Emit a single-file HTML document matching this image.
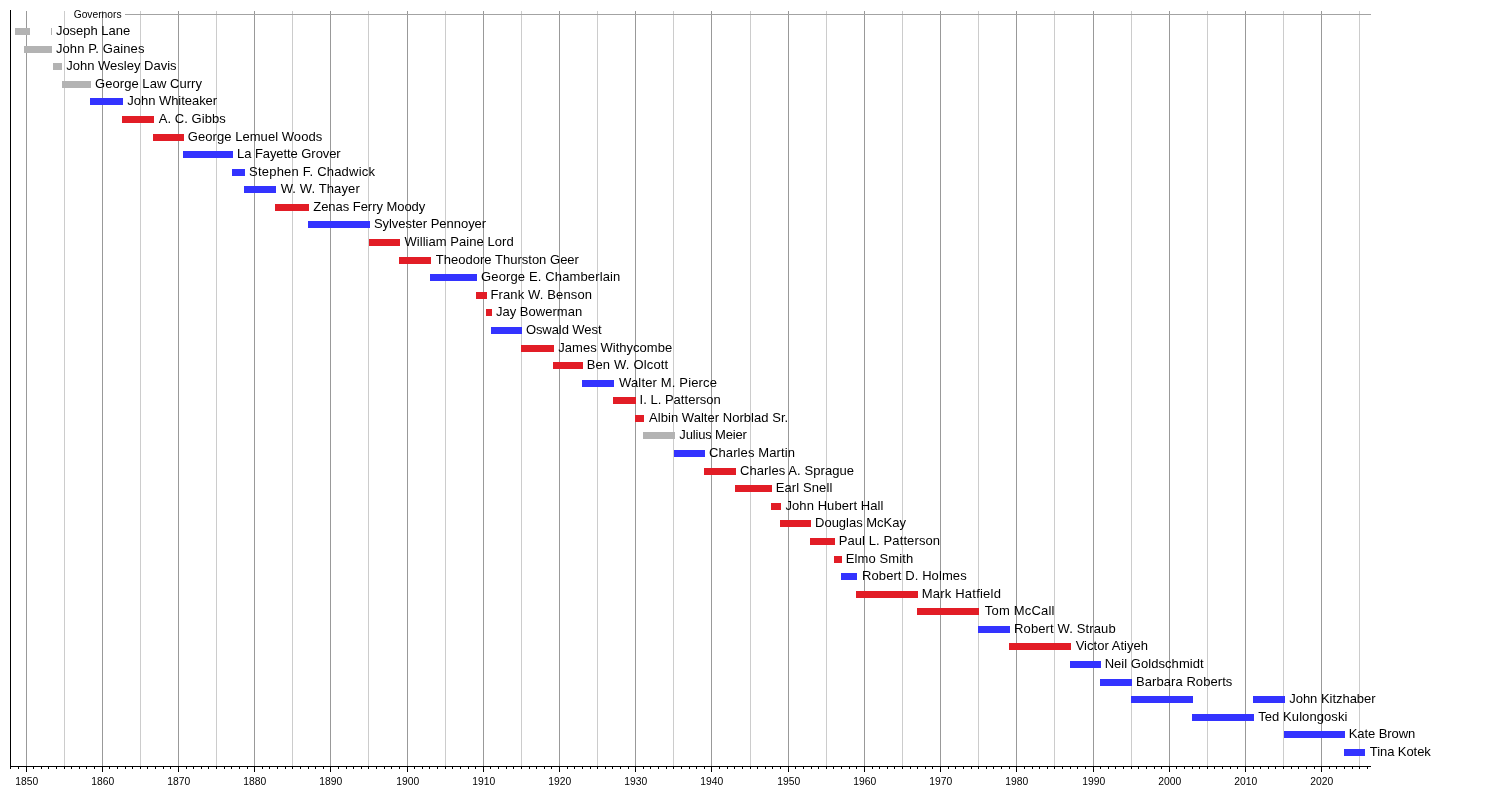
<!DOCTYPE html>
<html><head><meta charset="utf-8"><title>Governors of Oregon timeline</title>
<style>html,body{margin:0;padding:0;background:#fff;width:1500px;height:786px;overflow:hidden}svg{display:block;filter:blur(0.35px)}</style>
</head><body>
<svg width="1500" height="786" viewBox="0 0 1500 786" shape-rendering="crispEdges">
<rect width="1500" height="786" fill="#fff"/>
<rect x="26" y="11" width="1" height="755" fill="#999999"/>
<rect x="64" y="11" width="1" height="755" fill="#CCCCCC"/>
<rect x="102" y="11" width="1" height="755" fill="#999999"/>
<rect x="140" y="11" width="1" height="755" fill="#CCCCCC"/>
<rect x="178" y="11" width="1" height="755" fill="#999999"/>
<rect x="216" y="11" width="1" height="755" fill="#CCCCCC"/>
<rect x="254" y="11" width="1" height="755" fill="#999999"/>
<rect x="292" y="11" width="1" height="755" fill="#CCCCCC"/>
<rect x="330" y="11" width="1" height="755" fill="#999999"/>
<rect x="368" y="11" width="1" height="755" fill="#CCCCCC"/>
<rect x="407" y="11" width="1" height="755" fill="#999999"/>
<rect x="445" y="11" width="1" height="755" fill="#CCCCCC"/>
<rect x="483" y="11" width="1" height="755" fill="#999999"/>
<rect x="521" y="11" width="1" height="755" fill="#CCCCCC"/>
<rect x="559" y="11" width="1" height="755" fill="#999999"/>
<rect x="597" y="11" width="1" height="755" fill="#CCCCCC"/>
<rect x="635" y="11" width="1" height="755" fill="#999999"/>
<rect x="673" y="11" width="1" height="755" fill="#CCCCCC"/>
<rect x="711" y="11" width="1" height="755" fill="#999999"/>
<rect x="750" y="11" width="1" height="755" fill="#CCCCCC"/>
<rect x="788" y="11" width="1" height="755" fill="#999999"/>
<rect x="826" y="11" width="1" height="755" fill="#CCCCCC"/>
<rect x="864" y="11" width="1" height="755" fill="#999999"/>
<rect x="902" y="11" width="1" height="755" fill="#CCCCCC"/>
<rect x="940" y="11" width="1" height="755" fill="#999999"/>
<rect x="978" y="11" width="1" height="755" fill="#CCCCCC"/>
<rect x="1016" y="11" width="1" height="755" fill="#999999"/>
<rect x="1054" y="11" width="1" height="755" fill="#CCCCCC"/>
<rect x="1093" y="11" width="1" height="755" fill="#999999"/>
<rect x="1131" y="11" width="1" height="755" fill="#CCCCCC"/>
<rect x="1169" y="11" width="1" height="755" fill="#999999"/>
<rect x="1207" y="11" width="1" height="755" fill="#CCCCCC"/>
<rect x="1245" y="11" width="1" height="755" fill="#999999"/>
<rect x="1283" y="11" width="1" height="755" fill="#CCCCCC"/>
<rect x="1321" y="11" width="1" height="755" fill="#999999"/>
<rect x="1359" y="11" width="1" height="755" fill="#CCCCCC"/>
<rect x="125" y="14" width="1246" height="1" fill="#A3A3A3"/>
<rect x="15" y="28" width="15" height="7" fill="#B3B3B3"/>
<rect x="51" y="28" width="1" height="7" fill="#B3B3B3"/>
<rect x="24" y="46" width="28" height="7" fill="#B3B3B3"/>
<rect x="53" y="63" width="9" height="7" fill="#B3B3B3"/>
<rect x="62" y="81" width="29" height="7" fill="#B3B3B3"/>
<rect x="90" y="98" width="33" height="7" fill="#3333FF"/>
<rect x="122" y="116" width="32" height="7" fill="#E21D26"/>
<rect x="153" y="134" width="31" height="7" fill="#E21D26"/>
<rect x="183" y="151" width="50" height="7" fill="#3333FF"/>
<rect x="232" y="169" width="13" height="7" fill="#3333FF"/>
<rect x="244" y="186" width="32" height="7" fill="#3333FF"/>
<rect x="275" y="204" width="34" height="7" fill="#E21D26"/>
<rect x="308" y="221" width="62" height="7" fill="#3333FF"/>
<rect x="369" y="239" width="31" height="7" fill="#E21D26"/>
<rect x="399" y="257" width="32" height="7" fill="#E21D26"/>
<rect x="430" y="274" width="47" height="7" fill="#3333FF"/>
<rect x="476" y="292" width="11" height="7" fill="#E21D26"/>
<rect x="486" y="309" width="6" height="7" fill="#E21D26"/>
<rect x="491" y="327" width="31" height="7" fill="#3333FF"/>
<rect x="521" y="345" width="33" height="7" fill="#E21D26"/>
<rect x="553" y="362" width="30" height="7" fill="#E21D26"/>
<rect x="582" y="380" width="32" height="7" fill="#3333FF"/>
<rect x="613" y="397" width="23" height="7" fill="#E21D26"/>
<rect x="635" y="415" width="9" height="7" fill="#E21D26"/>
<rect x="643" y="432" width="32" height="7" fill="#B3B3B3"/>
<rect x="674" y="450" width="31" height="7" fill="#3333FF"/>
<rect x="704" y="468" width="32" height="7" fill="#E21D26"/>
<rect x="735" y="485" width="37" height="7" fill="#E21D26"/>
<rect x="771" y="503" width="10" height="7" fill="#E21D26"/>
<rect x="780" y="520" width="31" height="7" fill="#E21D26"/>
<rect x="810" y="538" width="25" height="7" fill="#E21D26"/>
<rect x="834" y="556" width="8" height="7" fill="#E21D26"/>
<rect x="841" y="573" width="16" height="7" fill="#3333FF"/>
<rect x="856" y="591" width="62" height="7" fill="#E21D26"/>
<rect x="917" y="608" width="62" height="7" fill="#E21D26"/>
<rect x="978" y="626" width="32" height="7" fill="#3333FF"/>
<rect x="1009" y="643" width="62" height="7" fill="#E21D26"/>
<rect x="1070" y="661" width="31" height="7" fill="#3333FF"/>
<rect x="1100" y="679" width="32" height="7" fill="#3333FF"/>
<rect x="1131" y="696" width="62" height="7" fill="#3333FF"/>
<rect x="1253" y="696" width="32" height="7" fill="#3333FF"/>
<rect x="1192" y="714" width="62" height="7" fill="#3333FF"/>
<rect x="1284" y="731" width="61" height="7" fill="#3333FF"/>
<rect x="1344" y="749" width="21" height="7" fill="#3333FF"/>
<rect x="10" y="10" width="1" height="759" fill="#000"/>
<rect x="10" y="766" width="1361" height="1" fill="#000"/>
<rect x="10" y="767" width="1" height="2" fill="#000"/>
<rect x="18" y="767" width="1" height="2" fill="#000"/>
<rect x="26" y="767" width="1" height="5" fill="#000"/>
<rect x="33" y="767" width="1" height="2" fill="#000"/>
<rect x="41" y="767" width="1" height="2" fill="#000"/>
<rect x="48" y="767" width="1" height="2" fill="#000"/>
<rect x="56" y="767" width="1" height="2" fill="#000"/>
<rect x="64" y="767" width="1" height="2" fill="#000"/>
<rect x="71" y="767" width="1" height="2" fill="#000"/>
<rect x="79" y="767" width="1" height="2" fill="#000"/>
<rect x="86" y="767" width="1" height="2" fill="#000"/>
<rect x="94" y="767" width="1" height="2" fill="#000"/>
<rect x="102" y="767" width="1" height="5" fill="#000"/>
<rect x="109" y="767" width="1" height="2" fill="#000"/>
<rect x="117" y="767" width="1" height="2" fill="#000"/>
<rect x="125" y="767" width="1" height="2" fill="#000"/>
<rect x="132" y="767" width="1" height="2" fill="#000"/>
<rect x="140" y="767" width="1" height="2" fill="#000"/>
<rect x="147" y="767" width="1" height="2" fill="#000"/>
<rect x="155" y="767" width="1" height="2" fill="#000"/>
<rect x="163" y="767" width="1" height="2" fill="#000"/>
<rect x="170" y="767" width="1" height="2" fill="#000"/>
<rect x="178" y="767" width="1" height="5" fill="#000"/>
<rect x="186" y="767" width="1" height="2" fill="#000"/>
<rect x="193" y="767" width="1" height="2" fill="#000"/>
<rect x="201" y="767" width="1" height="2" fill="#000"/>
<rect x="208" y="767" width="1" height="2" fill="#000"/>
<rect x="216" y="767" width="1" height="2" fill="#000"/>
<rect x="224" y="767" width="1" height="2" fill="#000"/>
<rect x="231" y="767" width="1" height="2" fill="#000"/>
<rect x="239" y="767" width="1" height="2" fill="#000"/>
<rect x="247" y="767" width="1" height="2" fill="#000"/>
<rect x="254" y="767" width="1" height="5" fill="#000"/>
<rect x="262" y="767" width="1" height="2" fill="#000"/>
<rect x="269" y="767" width="1" height="2" fill="#000"/>
<rect x="277" y="767" width="1" height="2" fill="#000"/>
<rect x="285" y="767" width="1" height="2" fill="#000"/>
<rect x="292" y="767" width="1" height="2" fill="#000"/>
<rect x="300" y="767" width="1" height="2" fill="#000"/>
<rect x="308" y="767" width="1" height="2" fill="#000"/>
<rect x="315" y="767" width="1" height="2" fill="#000"/>
<rect x="323" y="767" width="1" height="2" fill="#000"/>
<rect x="330" y="767" width="1" height="5" fill="#000"/>
<rect x="338" y="767" width="1" height="2" fill="#000"/>
<rect x="346" y="767" width="1" height="2" fill="#000"/>
<rect x="353" y="767" width="1" height="2" fill="#000"/>
<rect x="361" y="767" width="1" height="2" fill="#000"/>
<rect x="368" y="767" width="1" height="2" fill="#000"/>
<rect x="376" y="767" width="1" height="2" fill="#000"/>
<rect x="384" y="767" width="1" height="2" fill="#000"/>
<rect x="391" y="767" width="1" height="2" fill="#000"/>
<rect x="399" y="767" width="1" height="2" fill="#000"/>
<rect x="407" y="767" width="1" height="5" fill="#000"/>
<rect x="414" y="767" width="1" height="2" fill="#000"/>
<rect x="422" y="767" width="1" height="2" fill="#000"/>
<rect x="429" y="767" width="1" height="2" fill="#000"/>
<rect x="437" y="767" width="1" height="2" fill="#000"/>
<rect x="445" y="767" width="1" height="2" fill="#000"/>
<rect x="452" y="767" width="1" height="2" fill="#000"/>
<rect x="460" y="767" width="1" height="2" fill="#000"/>
<rect x="468" y="767" width="1" height="2" fill="#000"/>
<rect x="475" y="767" width="1" height="2" fill="#000"/>
<rect x="483" y="767" width="1" height="5" fill="#000"/>
<rect x="490" y="767" width="1" height="2" fill="#000"/>
<rect x="498" y="767" width="1" height="2" fill="#000"/>
<rect x="506" y="767" width="1" height="2" fill="#000"/>
<rect x="513" y="767" width="1" height="2" fill="#000"/>
<rect x="521" y="767" width="1" height="2" fill="#000"/>
<rect x="529" y="767" width="1" height="2" fill="#000"/>
<rect x="536" y="767" width="1" height="2" fill="#000"/>
<rect x="544" y="767" width="1" height="2" fill="#000"/>
<rect x="551" y="767" width="1" height="2" fill="#000"/>
<rect x="559" y="767" width="1" height="5" fill="#000"/>
<rect x="567" y="767" width="1" height="2" fill="#000"/>
<rect x="574" y="767" width="1" height="2" fill="#000"/>
<rect x="582" y="767" width="1" height="2" fill="#000"/>
<rect x="590" y="767" width="1" height="2" fill="#000"/>
<rect x="597" y="767" width="1" height="2" fill="#000"/>
<rect x="605" y="767" width="1" height="2" fill="#000"/>
<rect x="612" y="767" width="1" height="2" fill="#000"/>
<rect x="620" y="767" width="1" height="2" fill="#000"/>
<rect x="628" y="767" width="1" height="2" fill="#000"/>
<rect x="635" y="767" width="1" height="5" fill="#000"/>
<rect x="643" y="767" width="1" height="2" fill="#000"/>
<rect x="650" y="767" width="1" height="2" fill="#000"/>
<rect x="658" y="767" width="1" height="2" fill="#000"/>
<rect x="666" y="767" width="1" height="2" fill="#000"/>
<rect x="673" y="767" width="1" height="2" fill="#000"/>
<rect x="681" y="767" width="1" height="2" fill="#000"/>
<rect x="689" y="767" width="1" height="2" fill="#000"/>
<rect x="696" y="767" width="1" height="2" fill="#000"/>
<rect x="704" y="767" width="1" height="2" fill="#000"/>
<rect x="711" y="767" width="1" height="5" fill="#000"/>
<rect x="719" y="767" width="1" height="2" fill="#000"/>
<rect x="727" y="767" width="1" height="2" fill="#000"/>
<rect x="734" y="767" width="1" height="2" fill="#000"/>
<rect x="742" y="767" width="1" height="2" fill="#000"/>
<rect x="750" y="767" width="1" height="2" fill="#000"/>
<rect x="757" y="767" width="1" height="2" fill="#000"/>
<rect x="765" y="767" width="1" height="2" fill="#000"/>
<rect x="772" y="767" width="1" height="2" fill="#000"/>
<rect x="780" y="767" width="1" height="2" fill="#000"/>
<rect x="788" y="767" width="1" height="5" fill="#000"/>
<rect x="795" y="767" width="1" height="2" fill="#000"/>
<rect x="803" y="767" width="1" height="2" fill="#000"/>
<rect x="811" y="767" width="1" height="2" fill="#000"/>
<rect x="818" y="767" width="1" height="2" fill="#000"/>
<rect x="826" y="767" width="1" height="2" fill="#000"/>
<rect x="833" y="767" width="1" height="2" fill="#000"/>
<rect x="841" y="767" width="1" height="2" fill="#000"/>
<rect x="849" y="767" width="1" height="2" fill="#000"/>
<rect x="856" y="767" width="1" height="2" fill="#000"/>
<rect x="864" y="767" width="1" height="5" fill="#000"/>
<rect x="872" y="767" width="1" height="2" fill="#000"/>
<rect x="879" y="767" width="1" height="2" fill="#000"/>
<rect x="887" y="767" width="1" height="2" fill="#000"/>
<rect x="894" y="767" width="1" height="2" fill="#000"/>
<rect x="902" y="767" width="1" height="2" fill="#000"/>
<rect x="910" y="767" width="1" height="2" fill="#000"/>
<rect x="917" y="767" width="1" height="2" fill="#000"/>
<rect x="925" y="767" width="1" height="2" fill="#000"/>
<rect x="932" y="767" width="1" height="2" fill="#000"/>
<rect x="940" y="767" width="1" height="5" fill="#000"/>
<rect x="948" y="767" width="1" height="2" fill="#000"/>
<rect x="955" y="767" width="1" height="2" fill="#000"/>
<rect x="963" y="767" width="1" height="2" fill="#000"/>
<rect x="971" y="767" width="1" height="2" fill="#000"/>
<rect x="978" y="767" width="1" height="2" fill="#000"/>
<rect x="986" y="767" width="1" height="2" fill="#000"/>
<rect x="993" y="767" width="1" height="2" fill="#000"/>
<rect x="1001" y="767" width="1" height="2" fill="#000"/>
<rect x="1009" y="767" width="1" height="2" fill="#000"/>
<rect x="1016" y="767" width="1" height="5" fill="#000"/>
<rect x="1024" y="767" width="1" height="2" fill="#000"/>
<rect x="1032" y="767" width="1" height="2" fill="#000"/>
<rect x="1039" y="767" width="1" height="2" fill="#000"/>
<rect x="1047" y="767" width="1" height="2" fill="#000"/>
<rect x="1054" y="767" width="1" height="2" fill="#000"/>
<rect x="1062" y="767" width="1" height="2" fill="#000"/>
<rect x="1070" y="767" width="1" height="2" fill="#000"/>
<rect x="1077" y="767" width="1" height="2" fill="#000"/>
<rect x="1085" y="767" width="1" height="2" fill="#000"/>
<rect x="1093" y="767" width="1" height="5" fill="#000"/>
<rect x="1100" y="767" width="1" height="2" fill="#000"/>
<rect x="1108" y="767" width="1" height="2" fill="#000"/>
<rect x="1115" y="767" width="1" height="2" fill="#000"/>
<rect x="1123" y="767" width="1" height="2" fill="#000"/>
<rect x="1131" y="767" width="1" height="2" fill="#000"/>
<rect x="1138" y="767" width="1" height="2" fill="#000"/>
<rect x="1146" y="767" width="1" height="2" fill="#000"/>
<rect x="1154" y="767" width="1" height="2" fill="#000"/>
<rect x="1161" y="767" width="1" height="2" fill="#000"/>
<rect x="1169" y="767" width="1" height="5" fill="#000"/>
<rect x="1176" y="767" width="1" height="2" fill="#000"/>
<rect x="1184" y="767" width="1" height="2" fill="#000"/>
<rect x="1192" y="767" width="1" height="2" fill="#000"/>
<rect x="1199" y="767" width="1" height="2" fill="#000"/>
<rect x="1207" y="767" width="1" height="2" fill="#000"/>
<rect x="1214" y="767" width="1" height="2" fill="#000"/>
<rect x="1222" y="767" width="1" height="2" fill="#000"/>
<rect x="1230" y="767" width="1" height="2" fill="#000"/>
<rect x="1237" y="767" width="1" height="2" fill="#000"/>
<rect x="1245" y="767" width="1" height="5" fill="#000"/>
<rect x="1253" y="767" width="1" height="2" fill="#000"/>
<rect x="1260" y="767" width="1" height="2" fill="#000"/>
<rect x="1268" y="767" width="1" height="2" fill="#000"/>
<rect x="1275" y="767" width="1" height="2" fill="#000"/>
<rect x="1283" y="767" width="1" height="2" fill="#000"/>
<rect x="1291" y="767" width="1" height="2" fill="#000"/>
<rect x="1298" y="767" width="1" height="2" fill="#000"/>
<rect x="1306" y="767" width="1" height="2" fill="#000"/>
<rect x="1314" y="767" width="1" height="2" fill="#000"/>
<rect x="1321" y="767" width="1" height="5" fill="#000"/>
<rect x="1329" y="767" width="1" height="2" fill="#000"/>
<rect x="1336" y="767" width="1" height="2" fill="#000"/>
<rect x="1344" y="767" width="1" height="2" fill="#000"/>
<rect x="1352" y="767" width="1" height="2" fill="#000"/>
<rect x="1359" y="767" width="1" height="2" fill="#000"/>
<rect x="1367" y="767" width="1" height="2" fill="#000"/>
<g font-family="Liberation Sans, sans-serif" font-size="13" fill="#000" shape-rendering="auto">
<text x="55.90" y="35" textLength="74.35" lengthAdjust="spacing">Joseph Lane</text>
<text x="55.90" y="53" textLength="88.52" lengthAdjust="spacing">John P. Gaines</text>
<text x="66.30" y="70" textLength="110.21" lengthAdjust="spacing">John Wesley Davis</text>
<text x="95.05" y="88" textLength="106.92" lengthAdjust="spacing">George Law Curry</text>
<text x="127.30" y="105" textLength="89.83" lengthAdjust="spacing">John Whiteaker</text>
<text x="158.67" y="123" textLength="67.17" lengthAdjust="spacing">A. C. Gibbs</text>
<text x="187.85" y="141" textLength="134.35" lengthAdjust="spacing">George Lemuel Woods</text>
<text x="237.03" y="158" textLength="103.68" lengthAdjust="spacing">La Fayette Grover</text>
<text x="249.11" y="176" textLength="125.83" lengthAdjust="spacing">Stephen F. Chadwick</text>
<text x="280.64" y="193" textLength="79.08" lengthAdjust="spacing">W. W. Thayer</text>
<text x="313.29" y="211" textLength="112.00" lengthAdjust="spacing">Zenas Ferry Moody</text>
<text x="373.91" y="228" textLength="112.23" lengthAdjust="spacing">Sylvester Pennoyer</text>
<text x="404.44" y="246" textLength="109.28" lengthAdjust="spacing">William Paine Lord</text>
<text x="435.81" y="264" textLength="143.14" lengthAdjust="spacing">Theodore Thurston Geer</text>
<text x="481.05" y="281" textLength="139.28" lengthAdjust="spacing">George E. Chamberlain</text>
<text x="490.43" y="299" textLength="101.62" lengthAdjust="spacing">Frank W. Benson</text>
<text x="495.90" y="316" textLength="86.28" lengthAdjust="spacing">Jay Bowerman</text>
<text x="525.88" y="334" textLength="75.64" lengthAdjust="spacing">Oswald West</text>
<text x="558.30" y="352" textLength="113.92" lengthAdjust="spacing">James Withycombe</text>
<text x="586.63" y="369" textLength="81.58" lengthAdjust="spacing">Ben W. Olcott</text>
<text x="619.04" y="387" textLength="97.89" lengthAdjust="spacing">Walter M. Pierce</text>
<text x="639.50" y="404" textLength="81.24" lengthAdjust="spacing">I. L. Patterson</text>
<text x="649.07" y="422" textLength="139.15" lengthAdjust="spacing">Albin Walter Norblad Sr.</text>
<text x="679.30" y="439" textLength="67.66" lengthAdjust="spacing">Julius Meier</text>
<text x="709.04" y="457" textLength="85.83" lengthAdjust="spacing">Charles Martin</text>
<text x="740.04" y="475" textLength="114.03" lengthAdjust="spacing">Charles A. Sprague</text>
<text x="775.63" y="492" textLength="56.74" lengthAdjust="spacing">Earl Snell</text>
<text x="785.50" y="510" textLength="97.93" lengthAdjust="spacing">John Hubert Hall</text>
<text x="815.03" y="527" textLength="90.95" lengthAdjust="spacing">Douglas McKay</text>
<text x="838.63" y="545" textLength="101.43" lengthAdjust="spacing">Paul L. Patterson</text>
<text x="845.63" y="563" textLength="67.57" lengthAdjust="spacing">Elmo Smith</text>
<text x="862.03" y="580" textLength="104.61" lengthAdjust="spacing">Robert D. Holmes</text>
<text x="921.63" y="598" textLength="79.28" lengthAdjust="spacing">Mark Hatfield</text>
<text x="984.81" y="615" textLength="69.61" lengthAdjust="spacing">Tom McCall</text>
<text x="1014.03" y="633" textLength="101.62" lengthAdjust="spacing">Robert W. Straub</text>
<text x="1075.64" y="650" textLength="72.33" lengthAdjust="spacing">Victor Atiyeh</text>
<text x="1104.63" y="668" textLength="98.97" lengthAdjust="spacing">Neil Goldschmidt</text>
<text x="1136.03" y="686" textLength="96.29" lengthAdjust="spacing">Barbara Roberts</text>
<text x="1289.20" y="703" textLength="86.43" lengthAdjust="spacing">John Kitzhaber</text>
<text x="1258.21" y="721" textLength="89.17" lengthAdjust="spacing">Ted Kulongoski</text>
<text x="1348.63" y="738" textLength="66.60" lengthAdjust="spacing">Kate Brown</text>
<text x="1369.81" y="756" textLength="60.97" lengthAdjust="spacing">Tina Kotek</text>
</g>
<g font-family="Liberation Sans, sans-serif" font-size="10.3" fill="#000" text-anchor="middle">
<text x="26.80" y="785">1850</text>
<text x="102.80" y="785">1860</text>
<text x="178.80" y="785">1870</text>
<text x="254.80" y="785">1880</text>
<text x="330.80" y="785">1890</text>
<text x="407.80" y="785">1900</text>
<text x="483.80" y="785">1910</text>
<text x="559.80" y="785">1920</text>
<text x="635.80" y="785">1930</text>
<text x="711.80" y="785">1940</text>
<text x="788.80" y="785">1950</text>
<text x="864.80" y="785">1960</text>
<text x="940.80" y="785">1970</text>
<text x="1016.80" y="785">1980</text>
<text x="1093.80" y="785">1990</text>
<text x="1169.80" y="785">2000</text>
<text x="1245.80" y="785">2010</text>
<text x="1321.80" y="785">2020</text>
</g>
<text x="73.7" y="18" font-family="Liberation Sans, sans-serif" font-size="10.25" fill="#000">Governors</text>
</svg>
</body></html>
